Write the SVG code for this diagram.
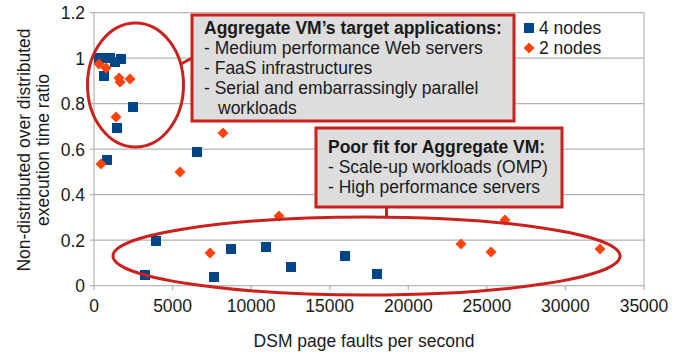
<svg xmlns="http://www.w3.org/2000/svg" width="683" height="352" viewBox="0 0 683 352">
<defs>
<style>
text{font-family:"Liberation Sans",Arial,sans-serif;font-size:17.5px;fill:#1a1a1a}
.grid{stroke:#b3b3b3;stroke-width:1.2;fill:none}
.yl{text-anchor:end}
.xl{text-anchor:middle}
.b{font-weight:bold}
.red{stroke:#c9211e;stroke-width:3;fill:none}
.box{stroke:#c9211e;stroke-width:3;fill:#dddddd}
</style>
<rect id="sq" x="-5" y="-5" width="10" height="10" fill="#004586"/>
<path id="dm" d="M0,-5.5 L5.5,0 L0,5.5 L-5.5,0 Z" fill="#ff420e"/>
</defs>
<rect width="683" height="352" fill="#ffffff"/>
<g id="axes">
<rect class="grid" x="94" y="12.7" width="550" height="273"/>
<path class="grid" d="M94,58.2H644M94,103.7H644M94,149.2H644M94,194.7H644M94,240.2H644"/>
<path class="grid" d="M90,12.7H94M90,58.2H94M90,103.7H94M90,149.2H94M90,194.7H94M90,240.2H94M90,285.7H94M94,285.7V290M172.6,285.7V290M251.1,285.7V290M329.7,285.7V290M408.3,285.7V290M486.9,285.7V290M565.4,285.7V290M644,285.7V290"/>
<text class="yl" x="85" y="19">1.2</text>
<text class="yl" x="85" y="64.5">1</text>
<text class="yl" x="85" y="110">0.8</text>
<text class="yl" x="85" y="155.5">0.6</text>
<text class="yl" x="85" y="201">0.4</text>
<text class="yl" x="85" y="246.5">0.2</text>
<text class="yl" x="85" y="292">0</text>
<text class="xl" x="94" y="312">0</text>
<text class="xl" x="172.6" y="312">5000</text>
<text class="xl" x="251.1" y="312">10000</text>
<text class="xl" x="329.7" y="312">15000</text>
<text class="xl" x="408.3" y="312">20000</text>
<text class="xl" x="486.9" y="312">25000</text>
<text class="xl" x="565.4" y="312">30000</text>
<text class="xl" x="644" y="312">35000</text>
<text class="xl" x="364" y="347">DSM page faults per second</text>
<text class="xl" transform="translate(29.5,150) rotate(-90)">Non-distributed over distributed</text>
<text class="xl" transform="translate(49,150) rotate(-90)">execution time ratio</text>
</g>
<g id="series-4-nodes">
<use href="#sq" x="99" y="58"/><use href="#sq" x="104" y="58"/><use href="#sq" x="110" y="58"/><use href="#sq" x="115" y="62"/><use href="#sq" x="121" y="59"/><use href="#sq" x="104" y="76"/>
<use href="#sq" x="133" y="107"/><use href="#sq" x="117" y="128"/><use href="#sq" x="107" y="160"/><use href="#sq" x="197" y="152"/>
<use href="#sq" x="145" y="275"/><use href="#sq" x="156" y="241"/><use href="#sq" x="214" y="277"/><use href="#sq" x="231" y="249"/><use href="#sq" x="266" y="247"/><use href="#sq" x="291" y="267"/><use href="#sq" x="345" y="256"/><use href="#sq" x="377" y="274"/>
</g>
<g id="series-2-nodes">
<use href="#dm" x="99" y="64"/><use href="#dm" x="106" y="68"/><use href="#dm" x="119" y="78"/><use href="#dm" x="120" y="82"/><use href="#dm" x="130" y="79"/>
<use href="#dm" x="116" y="117"/><use href="#dm" x="101" y="164"/><use href="#dm" x="180" y="172"/><use href="#dm" x="223" y="133"/>
<use href="#dm" x="279" y="216"/><use href="#dm" x="210" y="253"/><use href="#dm" x="461" y="244"/><use href="#dm" x="491" y="252"/><use href="#dm" x="505" y="220"/><use href="#dm" x="600" y="249"/>
</g>
<g id="legend">
<rect x="524" y="23" width="10" height="10" fill="#004586"/>
<text x="539" y="34">4 nodes</text>
<use href="#dm" x="529" y="48"/>
<text x="539" y="54">2 nodes</text>
</g>
<g id="connectors">
<ellipse class="red" cx="135.5" cy="85" rx="48" ry="62"/>
<ellipse class="red" cx="366.5" cy="256" rx="253.5" ry="39"/>
<path class="red" d="M181,64L192,58"/>
<path class="red" d="M386.5,207V218"/>
</g>
<g id="callout-target">
<rect class="box" x="192" y="15" width="322" height="106"/>
<text class="b" x="204" y="34">Aggregate VM’s target applications:</text>
<text x="204" y="54">- Medium performance Web servers</text>
<text x="204" y="74">- FaaS infrastructures</text>
<text x="204" y="94">- Serial and embarrassingly parallel</text>
<text x="218" y="114">workloads</text>
</g>
<g id="callout-poor">
<rect class="box" x="316" y="128" width="246" height="79"/>
<text class="b" x="328" y="153">Poor fit for Aggregate VM:</text>
<text x="328" y="173">- Scale-up workloads (OMP)</text>
<text x="328" y="193">- High performance servers</text>
</g>
</svg>
